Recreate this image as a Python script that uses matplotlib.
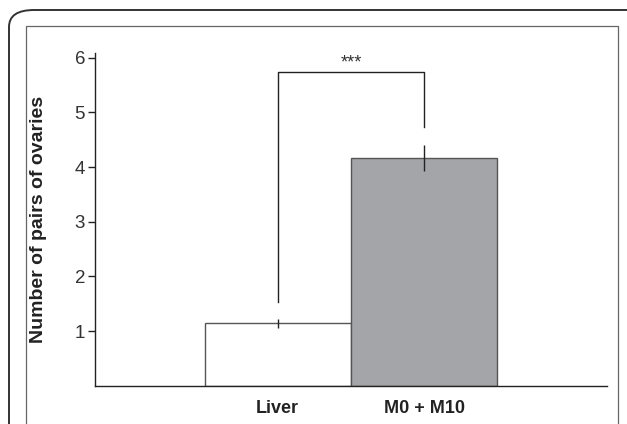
import matplotlib.pyplot as plt
from matplotlib.patches import FancyBboxPatch, Rectangle

# data
groups = ["Liver", "M0 + M10"]
pairs = [1.14, 4.16]
errs = [0.08, 0.24]
bar_colors = ["white", "#a4a5a8"]
yticks = [1, 2, 3, 4, 5, 6]
sig_label = "***"
bracket_top = 5.74
bracket_feet = [1.53, 4.73]

plt.rcParams['font.family'] = ['Liberation Sans', 'DejaVu Sans']

fig = plt.figure(figsize=(6.27, 4.24), dpi=100)
W, H = 627, 424

# outer rounded frame and inner box (cut off at the bottom/right like the source)
outer = FancyBboxPatch((9 / W, -0.2), 1.2, 1.2 - 10 / H,
                       boxstyle="round,pad=0,rounding_size=0.04",
                       transform=fig.transFigure, fill=False,
                       edgecolor="#333333", linewidth=1.4)
fig.patches.append(outer)
inner = Rectangle((26 / W, -0.1), (618 - 26) / W, 1.1 - 26 / H,
                  transform=fig.transFigure, fill=False,
                  edgecolor="#666666", linewidth=0.9)
fig.patches.append(inner)

ax = fig.add_axes([94.8 / W, 1 - 385.8 / H, (607 - 94.8) / W, (385.8 - 53.3) / H])
x = list(range(len(groups)))
ax.bar(x, pairs, width=1.0, color=bar_colors, edgecolor="#555555", linewidth=1.0, zorder=2)
ax.errorbar(x, pairs, yerr=errs, fmt="none", ecolor="#222222", elinewidth=1.0, capsize=0, zorder=3)

# significance bracket
ax.plot([x[0], x[0], x[1], x[1]],
        [bracket_feet[0], bracket_top, bracket_top, bracket_feet[1]],
        color="#222222", linewidth=1.0)
ax.text((x[0] + x[1]) / 2, bracket_top + 0.0, sig_label, ha="center", va="bottom",
        fontsize=13, color="#333333")

ax.set_xlim(-1.25, 2.25)
ax.set_ylim(0, 6.08)
ax.set_yticks(yticks)
ax.set_yticklabels([str(t) for t in yticks], fontsize=13.5, color="#333333")
ax.set_xticks(x)
ax.set_xticklabels(groups, fontsize=13, fontweight="bold", color="#222222")
ax.tick_params(axis="x", length=0, pad=10)
ax.tick_params(axis="y", length=5, width=1, direction="out", pad=2, color="#222222")
for s in ["top", "right"]:
    ax.spines[s].set_visible(False)
for s in ["left", "bottom"]:
    ax.spines[s].set_color("#222222")
    ax.spines[s].set_linewidth(1.0)
ax.set_ylabel("Number of pairs of ovaries", fontsize=14, fontweight="bold",
              color="#222222")
ax.yaxis.set_label_coords(-(94.8 - 47) / (607 - 94.8), 0.5)

fig.savefig("out.png", dpi=100)
